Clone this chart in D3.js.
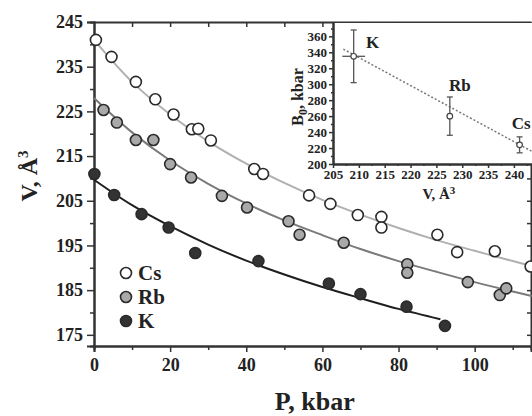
<!DOCTYPE html>
<html>
<head>
<meta charset="utf-8">
<script src="https://cdn.jsdelivr.net/npm/d3@7"></script>
<style>
  body { margin: 0; background: #fff; }
  svg text { font-family: "Liberation Serif", "Times New Roman", serif; font-weight: bold; fill: #222; }
</style>
</head>
<body>
<div id="chart"></div>
<script>
// measured points, P in kbar, V in A^3
const csP = [0.5, 4.6, 11.0, 16.1, 20.9, 25.7, 27.4, 30.7, 42.1, 44.4, 56.5, 62.1, 69.3, 75.5, 75.5, 90.2, 95.4, 105.3, 114.7];
const csV = [241.0, 237.2, 231.6, 227.7, 224.3, 221.0, 221.1, 218.5, 212.1, 211.0, 206.2, 204.3, 201.8, 201.4, 199.0, 197.4, 193.5, 193.7, 190.3];
const rbP = [2.5, 6.0, 11.0, 15.6, 20.0, 25.5, 33.6, 40.2, 51.1, 54.0, 65.6, 82.3, 82.3, 98.2, 106.6, 108.3];
const rbV = [225.3, 222.5, 218.6, 218.6, 213.2, 210.2, 206.1, 203.5, 200.4, 197.4, 195.6, 190.8, 188.9, 186.8, 183.9, 185.4];
const kP = [0.1, 5.3, 12.5, 19.6, 26.6, 43.2, 61.7, 70.0, 82.1, 92.2];
const kV = [211.0, 206.3, 202.0, 199.0, 193.3, 191.5, 186.5, 184.1, 181.3, 177.0];

// fitted curves
const fitP = [0, 10, 20, 30, 40, 50, 60, 70, 80, 90, 100, 110, 115];
const csFit = [241.0, 231.6, 224.3, 218.3, 213.3, 209.0, 205.2, 201.9, 198.9, 196.2, 193.8, 191.5, 190.4];
const rbFit = [228.0, 220.3, 214.0, 208.8, 204.4, 200.6, 197.3, 194.2, 191.5, 189.1, 186.8, 184.7, 183.7];
const kFitP = [0, 10, 20, 30, 40, 50, 60, 70, 80, 91];
const kFit = [209.7, 204.0, 199.3, 195.2, 191.6, 188.5, 185.7, 183.2, 180.8, 178.5];

// inset: bulk modulus vs volume
const metals = ['K', 'Rb', 'Cs'];
const insetV = [209.0, 227.6, 241.1];
const insetB = [335, 260, 224];
const insetBLow = [302, 236, 214];
const insetBHigh = [368, 284, 234];
const insetVErr = [2.2, 0.6, 0.6];
const trendV = [207, 244];
const trendB = [344, 214];

const vTicks = [175, 185, 195, 205, 215, 225, 235, 245];
const pTicks = [0, 20, 40, 60, 80, 100];
const insetVTicks = [205, 210, 215, 220, 225, 230, 235, 240];
const insetBTicks = [200, 220, 240, 260, 280, 300, 320, 340, 360];

const W = 532, H = 416;
const margin = { top: 22, right: 1, bottom: 70, left: 94 };
const width = W - margin.left - margin.right;
const height = H - margin.top - margin.bottom;

const svg = d3.select('#chart').append('svg')
  .attr('width', W)
  .attr('height', H);

const g = svg.append('g')
  .attr('transform', `translate(${margin.left},${margin.top})`);

const x = d3.scaleLinear().domain([0, 114.8]).range([0, width]);
const y = d3.scaleLinear().domain([172.5, 245]).range([height, 0]);

const styleAxis = (sel, size) => {
  sel.select('.domain').attr('stroke', '#333').attr('stroke-width', 2);
  sel.selectAll('.tick line').attr('stroke', '#333').attr('stroke-width', 1.5);
  sel.selectAll('.tick text').style('font-size', size + 'px').attr('fill', '#222');
};

// bottom axis
g.append('g')
  .attr('transform', `translate(0,${height})`)
  .call(d3.axisBottom(x).tickValues(d3.range(10, 115, 20)).tickSize(4).tickFormat(''))
  .call((s) => styleAxis(s, 17));
g.append('g')
  .attr('transform', `translate(0,${height})`)
  .call(d3.axisBottom(x).tickValues(pTicks).tickSize(6).tickPadding(6))
  .call((s) => styleAxis(s, 18));

// left axis
g.append('g')
  .call(d3.axisLeft(y).tickValues(d3.range(180, 245, 10)).tickSize(4).tickFormat(''))
  .call((s) => styleAxis(s, 17));
g.append('g')
  .call(d3.axisLeft(y).tickValues(vTicks).tickSize(7).tickPadding(4))
  .call((s) => styleAxis(s, 18));

// top and right frame with inward ticks
g.append('g')
  .call(d3.axisBottom(x).tickValues(d3.range(10, 115, 10)).tickSize(5).tickFormat('').tickSizeOuter(0))
  .call((s) => styleAxis(s, 17));
g.append('g')
  .attr('transform', `translate(${width},0)`)
  .call(d3.axisLeft(y).tickValues(d3.range(175, 245, 5)).tickSize(4).tickFormat('').tickSizeOuter(0))
  .call((s) => styleAxis(s, 17));

// fitted curves
const line = d3.line().x((d) => x(d[0])).y((d) => y(d[1])).curve(d3.curveCatmullRom);
const curves = [
  { p: fitP, v: csFit, color: '#b0b0b0' },
  { p: fitP, v: rbFit, color: '#7a7a7a' },
  { p: kFitP, v: kFit, color: '#1e1e1e' }
];
curves.forEach((c) => {
  g.append('path')
    .datum(c.p.map((p, i) => [p, c.v[i]]))
    .attr('fill', 'none')
    .attr('stroke', c.color)
    .attr('stroke-width', 2)
    .attr('d', line);
});

// points
const series = [
  { p: csP, v: csV, fill: '#ffffff', name: 'Cs' },
  { p: rbP, v: rbV, fill: '#a9a9a9', name: 'Rb' },
  { p: kP, v: kV, fill: '#333333', name: 'K' }
];
series.forEach((s) => {
  g.selectAll(null)
    .data(s.p.map((p, i) => [p, s.v[i]]))
    .enter()
    .append('circle')
    .attr('cx', (d) => x(d[0]))
    .attr('cy', (d) => y(d[1]))
    .attr('r', 5.5)
    .attr('fill', s.fill)
    .attr('stroke', '#2a2a2a')
    .attr('stroke-width', 1.6);
});

// legend
const legend = g.append('g').attr('transform', 'translate(32,251)');
series.forEach((s, i) => {
  legend.append('circle')
    .attr('cx', 0).attr('cy', i * 24)
    .attr('r', 5.5)
    .attr('fill', s.fill)
    .attr('stroke', '#2a2a2a')
    .attr('stroke-width', 1.6);
  legend.append('text')
    .attr('x', 12).attr('y', i * 24 + 7)
    .style('font-size', '21px')
    .text(s.name);
});

// axis titles
svg.append('text')
  .attr('x', margin.left + x(58)).attr('y', 410)
  .attr('text-anchor', 'middle')
  .style('font-size', '26px')
  .text('P, kbar');

svg.append('text')
  .attr('transform', 'translate(37,176) rotate(-90)')
  .attr('text-anchor', 'middle')
  .style('font-size', '24px')
  .html('V, Å<tspan dy="-9" font-size="15">3</tspan>');

// inset
const inset = { left: 333, top: 22, right: 532, bottom: 164 };
svg.append('rect')
  .attr('x', inset.left).attr('y', inset.top + 1)
  .attr('width', inset.right - inset.left).attr('height', inset.bottom - inset.top - 1)
  .attr('fill', '#fff');

const ig = svg.append('g').attr('transform', `translate(${inset.left},${inset.top})`);
const iw = inset.right - inset.left;
const ih = inset.bottom - inset.top;
const ix = d3.scaleLinear().domain([205, 243.5]).range([0, iw]);
const iy = d3.scaleLinear().domain([200, 378]).range([ih, 0]);

ig.append('g')
  .attr('transform', `translate(0,${ih})`)
  .call(d3.axisBottom(ix).tickValues(d3.range(207.5, 243, 5)).tickSize(2).tickFormat('').tickSizeOuter(0))
  .call((s) => styleAxis(s, 12));
ig.append('g')
  .attr('transform', `translate(0,${ih})`)
  .call(d3.axisBottom(ix).tickValues(insetVTicks).tickSize(4).tickPadding(2).tickSizeOuter(0))
  .call((s) => styleAxis(s, 13));
ig.append('g')
  .call(d3.axisLeft(iy).tickValues(d3.range(210, 371, 20)).tickSize(2).tickFormat('').tickSizeOuter(0))
  .call((s) => styleAxis(s, 12));
ig.append('g')
  .call(d3.axisLeft(iy).tickValues(insetBTicks).tickSize(4).tickPadding(2).tickSizeOuter(0))
  .call((s) => styleAxis(s, 13));

// trend line
ig.append('line')
  .attr('x1', ix(trendV[0])).attr('y1', iy(trendB[0]))
  .attr('x2', ix(trendV[1])).attr('y2', iy(trendB[1]))
  .attr('stroke', '#777')
  .attr('stroke-width', 1.5)
  .attr('stroke-dasharray', '2,2');

// error bars and markers
metals.forEach((m, i) => {
  const cx = ix(insetV[i]);
  const cy = iy(insetB[i]);
  const eb = ig.append('g').attr('stroke', '#555').attr('stroke-width', 1.3);
  eb.append('line').attr('x1', cx).attr('x2', cx).attr('y1', iy(insetBLow[i])).attr('y2', iy(insetBHigh[i]));
  eb.append('line').attr('x1', cx - 3).attr('x2', cx + 3).attr('y1', iy(insetBLow[i])).attr('y2', iy(insetBLow[i]));
  eb.append('line').attr('x1', cx - 3).attr('x2', cx + 3).attr('y1', iy(insetBHigh[i])).attr('y2', iy(insetBHigh[i]));
  eb.append('line')
    .attr('x1', ix(insetV[i] - insetVErr[i])).attr('x2', ix(insetV[i] + insetVErr[i]))
    .attr('y1', cy).attr('y2', cy);
  ig.append('circle')
    .attr('cx', cx).attr('cy', cy).attr('r', 2.8)
    .attr('fill', '#fff')
    .attr('stroke', '#444')
    .attr('stroke-width', 1.2);
});

// metal labels in inset
const labelPos = [[19, 345], [10, 291], [1.5, 244]];
metals.forEach((m, i) => {
  ig.append('text')
    .attr('x', ix(insetV[i]) + labelPos[i][0])
    .attr('y', iy(labelPos[i][1]))
    .attr('text-anchor', 'middle')
    .style('font-size', '17px')
    .text(m);
});

ig.append('text')
  .attr('transform', `translate(-30,${ih / 2 + 4}) rotate(-90)`)
  .attr('text-anchor', 'middle')
  .style('font-size', '16px')
  .html('B<tspan dy="4" font-size="12">0</tspan><tspan dy="-4">, kbar</tspan>');

ig.append('text')
  .attr('x', ix(225.5)).attr('y', ih + 35)
  .attr('text-anchor', 'middle')
  .style('font-size', '15px')
  .html('V, Å<tspan dy="-5" font-size="11">3</tspan>');
</script>
</body>
</html>
